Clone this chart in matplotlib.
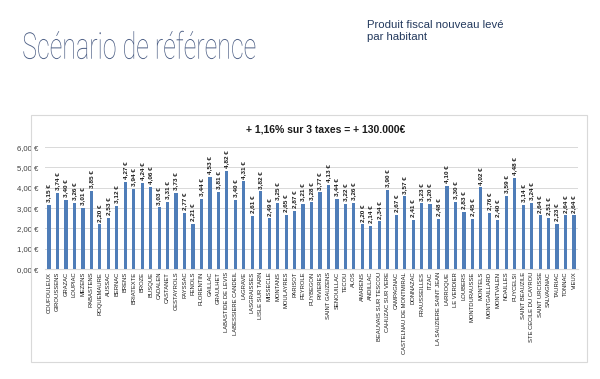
import matplotlib as mpl
from matplotlib import pyplot as plt
from matplotlib import patheffects
from matplotlib.patches import Rectangle
from matplotlib.transforms import Affine2D

mpl.rcParams['font.family'] = ['Liberation Sans', 'DejaVu Sans']

communes = [
    "COUFOULEUX", "GIROUSSENS", "GRAZAC", "LOUPIAC", "MEZENS", "RABASTENS",
    "ROQUEMAURE", "AUSSAC", "BERNAC", "BRENS", "BRIATEXTE", "BROZE", "BUSQUE",
    "CADALEN", "CASTANET", "CESTAYROLS", "FAYSSAC", "FENOLS", "FLORENTIN",
    "GAILLAC", "GRAULHET", "LABASTIDE DE LEVIS", "LABESSIERE CANDEIL",
    "LAGRAVE", "LASGRAISSES", "LISLE SUR TARN", "MISSECLE", "MONTANS",
    "MOULAYRES", "PARISOT", "PEYROLE", "PUYBEGON", "RIVIERES", "SAINT GAUZENS",
    "SENOUILLAC", "TECOU", "ALOS", "AMARENS", "ANDILLAC", "BEAUVAIS SUR TESCOU",
    "CAHUZAC SUR VERE", "CAMPAGNAC", "CASTELNAU DE MONTMIRAL", "DONNAZAC",
    "FRAUSSEILLES", "ITZAC", "LA SAUZIERE SAINT JEAN", "LARROQUE", "LE VERDIER",
    "LOUBERS", "MONTDURAUSSE", "MONTELS", "MONTGAILLARD", "MONTVALEN",
    "NOAILLES", "PUYCELSI", "SAINT BEAUZILE", "STE CECILE DU CAYROU",
    "SAINT URCISSE", "SALVAGNAC", "TAURIAC", "TONNAC", "VIEUX",
]
produit = [
    3.15, 3.74, 3.40, 3.26, 3.01, 3.85, 2.20, 2.53, 3.12, 4.27, 3.94, 4.24,
    4.06, 3.03, 3.31, 3.73, 2.77, 2.21, 3.44, 4.53, 3.81, 4.82, 3.40, 4.31,
    2.61, 3.82, 2.49, 3.25, 2.65, 2.87, 3.21, 3.28, 3.77, 4.13, 3.44, 3.22,
    3.26, 2.20, 2.14, 2.34, 3.90, 2.67, 3.57, 2.41, 3.23, 3.20, 2.48, 4.10,
    3.30, 2.83, 2.45, 4.02, 2.76, 2.40, 3.59, 4.48, 3.14, 3.24, 2.64, 2.51,
    2.23, 2.64, 2.64,
]
yticks = [0, 1, 2, 3, 4, 5, 6]


def euro(v):
    return f"{v:.2f} €".replace(".", ",")


class Squeeze(patheffects.AbstractPathEffect):
    """Narrow the glyphs horizontally around x0 (display px)"""

    def __init__(self, x0, sx):
        super().__init__()
        self.x0 = x0
        self.sx = sx

    def draw_path(self, renderer, gc, tpath, affine, rgbFace=None):
        squeeze = Affine2D().translate(-self.x0, 0).scale(self.sx, 1).translate(self.x0, 0)
        renderer.draw_path(gc, tpath, affine + squeeze, rgbFace)


fig = plt.figure(figsize=(6, 3.79), dpi=100)

# cadre du graphique
fig.patches.append(Rectangle((31 / 600, 17 / 379), 556 / 600, 247 / 379,
                             transform=fig.transFigure, fill=False,
                             edgecolor="#d9d9d9", linewidth=0.8))

ax = fig.add_axes([0.0747, 0.290, 0.889, 0.322])
x = list(range(len(communes)))
bars = ax.bar(x, produit, width=0.38, color="#4f7db8", zorder=3)
ax.bar_label(bars, labels=[euro(v) for v in produit], rotation=90,
             padding=2, fontsize=4.6, fontweight="bold", color="#1a1a1a")

ax.set_xlim(-0.5, len(communes) - 0.5)
ax.set_ylim(0, 6)
ax.set_yticks(yticks)
ax.set_yticklabels([euro(v) for v in yticks], fontsize=5.6, color="#404040")
ax.set_xticks(x)
ax.set_xticklabels(communes, rotation=90, fontsize=4.2, color="#1a1a1a")
ax.tick_params(axis="y", length=0, pad=5)
ax.tick_params(axis="x", length=0, pad=2)
ax.grid(axis="y", color="#d9d9d9", linewidth=0.7, zorder=0)
for s in ax.spines.values():
    s.set_visible(False)
ax.spines["bottom"].set_visible(True)
ax.spines["bottom"].set_color("#d9d9d9")

fig.text(0.542, 0.657, "+ 1,16% sur 3 taxes = + 130.000€", ha="center",
         va="center", fontsize=7.5, fontweight="bold", color="#1a1a1a")

fig.text(0.037, 0.845, "Scénario de référence", ha="left", va="baseline",
         fontsize=26.5, color="#4d5f85", family=["Roboto", "DejaVu Sans"],
         fontweight="light", path_effects=[Squeeze(0.037 * 600, 0.68)])

fig.text(0.612, 0.947, "Produit fiscal nouveau levé\npar habitant", ha="left",
         va="top", fontsize=8.2, color="#23395d", linespacing=1.25)

fig.savefig("out.png", dpi=100, facecolor="white")
